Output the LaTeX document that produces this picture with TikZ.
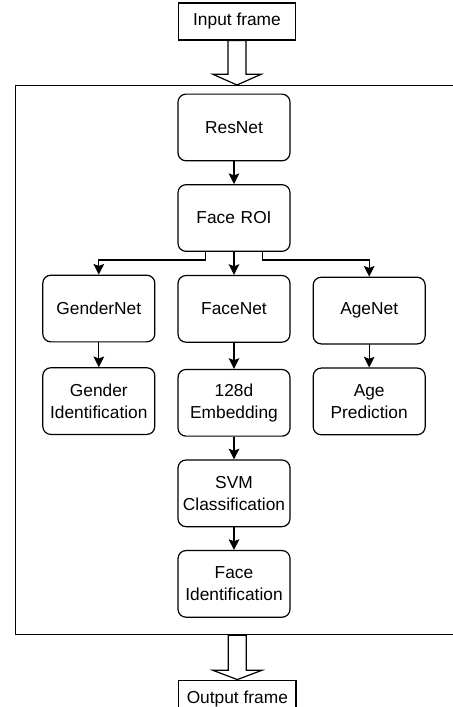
\documentclass[tikz,border=0pt]{standalone}
\usepackage{fontspec}
\setmainfont{Liberation Sans}
\usetikzlibrary{matrix,arrows.meta,calc}

\tikzset{
  block/.style={draw, rounded corners=6pt, minimum width=84pt, minimum height=50pt, text width=80pt, align=center, inner sep=2pt},
  framebox/.style={draw, minimum width=88pt, minimum height=27.75pt, inner sep=2pt},
  flow/.style={-{Stealth[length=8pt,width=8pt,inset=1.5pt]}},
  hollow/.style={draw, fill=white, line join=miter}
}

\begin{document}
\begin{tikzpicture}[line width=0.9pt, font=\fontsize{13}{16.5}\selectfont]
\useasboundingbox (0,0) rectangle (339.75pt,-530.25pt);

\node[draw, minimum width=333.75pt, minimum height=411.75pt, anchor=north west] (stage) at (11.25pt,-63.75pt) {};

\matrix (m) at (175.5pt,-266.75pt) [matrix of nodes, column sep=16.5pt, row sep=17pt, nodes={block}]{
 & ResNet & \\
 & Face ROI & \\
GenderNet & FaceNet & AgeNet \\
{Gender\\Identification} & {128d\\Embedding} & {Age\\Prediction} \\
 & {SVM\\Classification} & \\
 & {Face\\Identification} & \\
};

\node[framebox] (input) at (177.75pt,-16.1pt) {Input frame};
\node[framebox] (output) at (178pt,-524pt) {Output frame};

\draw[hollow] let \p1=(input.south), \p2=(stage.north) in
  (\x1-6.75pt,\y1) -- (\x1-6.75pt,\y2+8pt) -- (\x1-18pt,\y2+8pt) -- (\x1,\y2)
  -- (\x1+18pt,\y2+8pt) -- (\x1+6.75pt,\y2+8pt) -- (\x1+6.75pt,\y1) -- cycle;
\draw[hollow] let \p1=(output.north), \p2=(stage.south) in
  (\x1-6.75pt,\y2) -- (\x1-6.75pt,\y1+7pt) -- (\x1-18.5pt,\y1+7pt) -- (\x1,\y1)
  -- (\x1+18.5pt,\y1+7pt) -- (\x1+6.75pt,\y1+7pt) -- (\x1+6.75pt,\y2) -- cycle;

\draw[flow] (m-1-2) -- (m-2-2);
\draw[flow] (m-2-2) -- (m-3-2);
\draw[flow] ($(m-2-2.south)!.5!(m-2-2.south west)$) -- ++(0,-6pt) -| (m-3-1);
\draw[flow] ($(m-2-2.south)!.5!(m-2-2.south east)$) -- ++(0,-6pt) -| (m-3-3);
\draw[flow] (m-3-1) -- (m-4-1);
\draw[flow] (m-3-2) -- (m-4-2);
\draw[flow] (m-3-3) -- (m-4-3);
\draw[flow] (m-4-2) -- (m-5-2);
\draw[flow] (m-5-2) -- (m-6-2);
\end{tikzpicture}
\end{document}
